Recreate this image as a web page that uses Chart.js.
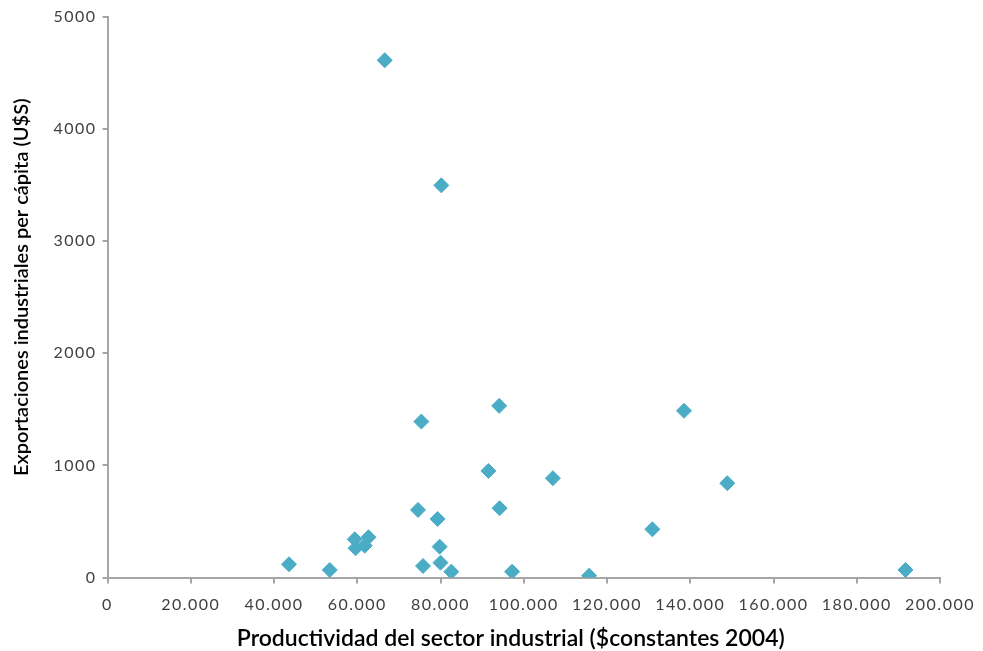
<!DOCTYPE html>
<html>
<head>
<meta charset="utf-8">
<script src="https://cdn.jsdelivr.net/npm/chart.js@4"></script>
<style>
  html, body { margin: 0; padding: 0; background: #ffffff; }
  #wrap { width: 983px; height: 651px; position: relative; }
</style>
</head>
<body>
<div id="wrap"><canvas id="c" width="983" height="651"></canvas></div>
<script>
// Productividad del sector industrial ($ constantes 2004)
const productividad = [43600, 53400, 59400, 59600, 61800, 62700, 66600, 74600, 75400, 75800,
                       79300, 79800, 80200, 80000, 82600, 91500, 94100, 94200, 97200, 107000,
                       115700, 130900, 138500, 148900, 191700];
// Exportaciones industriales per cápita (U$S)
const exportaciones = [118, 67, 341, 261, 284, 359, 4614, 603, 1391, 103,
                       522, 275, 3498, 132, 52, 951, 1531, 618, 52, 886,
                       16, 430, 1487, 841, 67];
const xTicks = [0, 20000, 40000, 60000, 80000, 100000, 120000, 140000, 160000, 180000, 200000];
const yTicks = [0, 1000, 2000, 3000, 4000, 5000];

const points = productividad.map((x, i) => ({ x: x, y: exportaciones[i] }));

function fmtThousands(v) {
  if (v === 0) return '0';
  return String(v).replace(/\B(?=(\d{3})+(?!\d))/g, '.');
}

const axisColor = '#a6a6a6';
const tickFont = { family: 'Lato', size: 16 };

// small text tweaks: wider tick lettering, titles nudged as in the reference
const textTweaks = {
  id: 'textTweaks',
  beforeDraw(chart) {
    const shifts = { x: [-13, 0], y: [0, -10] };
    ['x', 'y'].forEach(id => {
      const s = chart.scales[id];
      if (s && !s._tweaked) {
        const origLabels = s.drawLabels;
        s.drawLabels = function (ca) {
          const ctx = this.ctx;
          ctx.save();
          ctx.letterSpacing = '1.5px';
          origLabels.call(this, ca);
          ctx.restore();
        };
        const origTitle = s.drawTitle;
        s.drawTitle = function () {
          const ctx = this.ctx;
          ctx.save();
          ctx.translate(shifts[id][0], shifts[id][1]);
          origTitle.call(this);
          ctx.restore();
        };
        s._tweaked = true;
      }
    });
  }
};

new Chart(document.getElementById('c'), {
  type: 'scatter',
  data: {
    datasets: [{
      data: points,
      pointStyle: 'rectRot',
      pointRadius: 7.5,
      pointHoverRadius: 7.5,
      backgroundColor: '#4BACC6',
      borderColor: '#4BACC6',
      borderWidth: 1
    }]
  },
  plugins: [textTweaks],
  options: {
    responsive: false,
    animation: false,
    devicePixelRatio: 1,
    layout: { padding: { top: 17, right: 43, left: 0, bottom: 0 } },
    plugins: { legend: { display: false }, tooltip: { enabled: false } },
    scales: {
      x: {
        type: 'linear',
        min: 0, max: 200000,
        afterBuildTicks: (s) => { s.ticks = xTicks.map(v => ({ value: v })); },
        afterFit: (s) => { s.height = 73.5; },
        border: { display: true, color: axisColor, width: 2 },
        grid: { drawOnChartArea: false, drawTicks: true, tickLength: 6, color: axisColor, lineWidth: 2 },
        ticks: { color: '#404040', font: tickFont, padding: 12, maxRotation: 0, autoSkip: false,
                 callback: (v) => fmtThousands(v) },
        title: { display: true, text: 'Productividad del sector industrial ($constantes 2004)',
                 color: '#000000', font: { family: 'Lato', size: 23, weight: '600' },
                 padding: { top: 0, bottom: -1 } }
      },
      y: {
        type: 'linear',
        min: 0, max: 5000,
        afterBuildTicks: (s) => { s.ticks = yTicks.map(v => ({ value: v })); },
        afterFit: (s) => { s.width = 107.5; },
        border: { display: true, color: axisColor, width: 2 },
        grid: { drawOnChartArea: false, drawTicks: true, tickLength: 5, color: axisColor, lineWidth: 2 },
        ticks: { color: '#404040', font: tickFont, padding: 6, autoSkip: false,
                 callback: (v) => String(v) },
        title: { display: true, text: 'Exportaciones industriales per cápita (U$S)',
                 color: '#000000', font: { family: 'Lato', size: 20, weight: '600' },
                 padding: { top: 10, bottom: 0 } }
      }
    }
  }
});
</script>
</body>
</html>
